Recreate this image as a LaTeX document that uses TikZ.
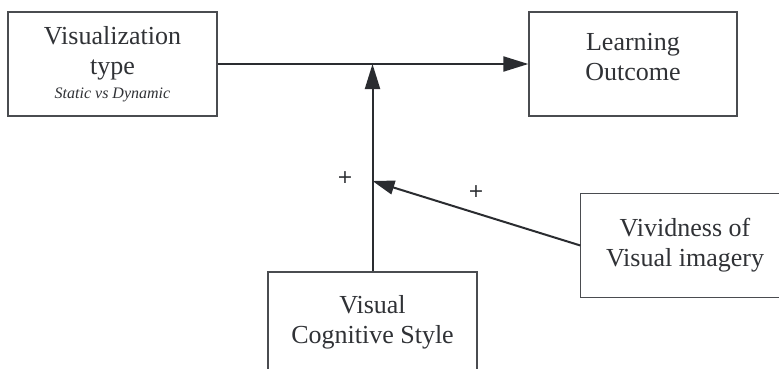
\documentclass[tikz,border=0pt]{standalone}
\usepackage{fontspec}
\setmainfont{Liberation Serif}
\newfontfamily\plusfont{DejaVu Sans}
\usetikzlibrary{arrows.meta}
\definecolor{txt}{HTML}{303236}
\definecolor{edge}{HTML}{4A4C50}
\definecolor{conn}{HTML}{2A2C30}
\begin{document}
\begin{tikzpicture}[x=1pt,y=-1pt,
  box/.style={draw=edge, line width=1.3pt, fill=white, inner sep=0pt, align=center,
    text=txt, font=\fontsize{26}{30}\selectfont},
  conn/.style={draw=conn, line width=2pt},
  tipA/.style={-{Triangle[length=25pt,width=15pt]}},
  tipB/.style={-{Triangle[length=22pt,width=14pt]}},
  plus/.style={text=conn, font=\plusfont\fontsize{19}{22}\selectfont, inner sep=0pt}]
\useasboundingbox (0,0) rectangle (779,369);
\clip (0,0) rectangle (779,369);
\fill[white] (0,0) rectangle (779,369);
\node[box, minimum width=209pt, minimum height=104pt] (b1) at (112.5,64)
  {Visualization\\type\\[-6pt]{\fontsize{16}{18}\selectfont\itshape Static vs Dynamic}};
\node[box, minimum width=208pt, minimum height=104pt, text depth=14pt] (b2) at (633,64)
  {Learning\\Outcome};
\node[box, minimum width=209pt, minimum height=100pt] (b3) at (372.5,322)
  {Visual\\Cognitive Style};
\node[box, draw=none, minimum width=208pt, minimum height=103pt] (b4) at (685,245.5)
  {Vividness of\\Visual imagery};
\draw[edge, line width=1.3pt] (b4.north east) -- (b4.north west) -- (b4.south west) -- (b4.south east);
\coordinate (j) at (b3.north |- b1.east);
\coordinate (k) at (372.5,181);
\draw[conn, tipA] (b1.east) -- (b2.west);
\draw[conn, tipA] (b3.north) -- (j);
\draw[conn, tipB] (b4.west) -- (k);
\node[plus] (p1) at (345,177.5) {+};
\node[plus] (p2) at (476,191.5) {+};
\end{tikzpicture}
\end{document}
